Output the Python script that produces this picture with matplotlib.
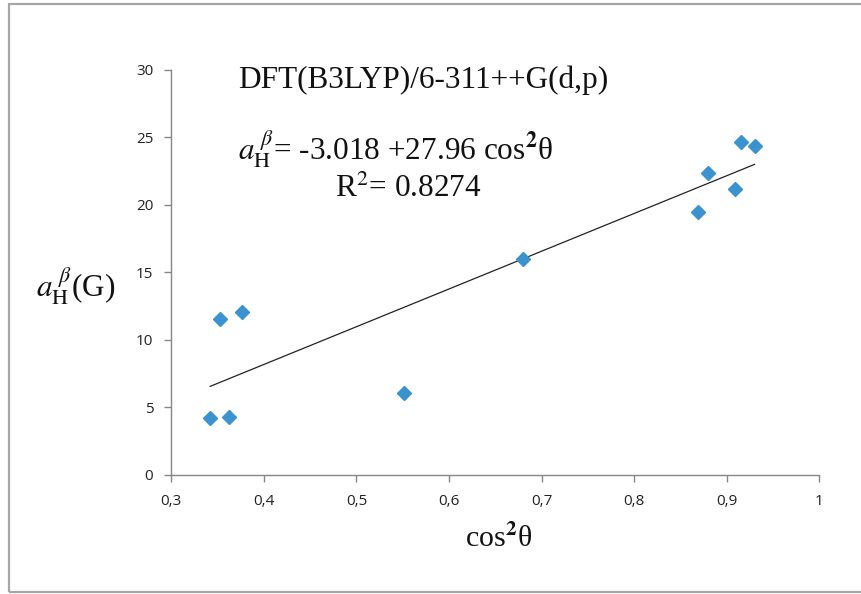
import numpy as np
import matplotlib.pyplot as plt
from matplotlib.patches import Rectangle

# cos^2(theta) values and beta-proton hyperfine couplings (G)
cos2_theta = [0.342, 0.362, 0.353, 0.376, 0.551, 0.680, 0.869, 0.880, 0.909, 0.915, 0.930]
a_h_beta = [4.20, 4.30, 11.55, 12.03, 6.03, 15.98, 19.48, 22.37, 21.16, 24.67, 24.35]

# linear fit given on the chart
intercept = -3.018
slope = 27.96

x_ticks = [0.3, 0.4, 0.5, 0.6, 0.7, 0.8, 0.9, 1.0]
x_tick_labels = ['0,3', '0,4', '0,5', '0,6', '0,7', '0,8', '0,9', '1']
y_ticks = [0, 5, 10, 15, 20, 25, 30]

plt.rcParams['mathtext.fontset'] = 'stix'

fig = plt.figure(figsize=(8.62, 5.94), dpi=100)
ax = fig.add_axes([0.1987, 0.2008, 0.7518, 0.6819])

# outer chart frame (right edge falls outside the picture)
fig.patches.append(Rectangle((9 / 862, 2 / 594), 1.5, (590 - 2) / 594,
                             transform=fig.transFigure, fill=False,
                             edgecolor='#a6a6a6', linewidth=1.6))

ax.plot(cos2_theta, a_h_beta, linestyle='none', marker='D', markersize=6.8,
        color='#3a93cf', markeredgecolor='#3a93cf', zorder=3)

xs = np.array([min(cos2_theta), max(cos2_theta)])
ax.plot(xs, intercept + slope * xs, color='#222222', linewidth=0.9, zorder=2)

ax.set_xlim(0.3, 1.0)
ax.set_ylim(0, 30)
ax.set_xticks(x_ticks)
ax.set_xticklabels(x_tick_labels)
ax.set_yticks(y_ticks)

for side in ['top', 'right']:
    ax.spines[side].set_visible(False)
for side in ['left', 'bottom']:
    ax.spines[side].set_color('#868686')
    ax.spines[side].set_linewidth(1.0)

ax.tick_params(direction='out', length=5, width=1.0, color='#868686',
               labelsize=11, labelcolor='#222222')
ax.tick_params(axis='y', pad=8)
ax.tick_params(axis='x', pad=9)
for lab in ax.get_xticklabels() + ax.get_yticklabels():
    lab.set_family('Open Sans')

serif = 'Liberation Serif'
fs = 22.5
fig.text(423 / 862, 1 - 88 / 594, 'DFT(B3LYP)/6-311++G(d,p)', family=serif,
         fontsize=fs, ha='center', va='baseline', color='#111111')
fig.text(238 / 862, 1 - 160 / 594,
         r'$a_{\mathrm{H}}^{\ \beta}$= -3.018 +27.96 cos$^{\mathbf{2}}$θ',
         family=serif, fontsize=fs, ha='left', va='baseline', color='#111111')
fig.text(335 / 862, 1 - 197 / 594, r'R$^{2}$= 0.8274', family=serif,
         fontsize=fs, ha='left', va='baseline', color='#111111')

fig.text(36 / 862, 1 - 297 / 594, r'$a_{\mathrm{H}}^{\ \beta}$(G)', family=serif,
         fontsize=fs, ha='left', va='baseline', color='#111111')
fig.text(465 / 862, 1 - 547 / 594, r'cos$^{\mathbf{2}}$θ', family=serif,
         fontsize=21.5, ha='left', va='baseline', color='#111111')

fig.savefig('out.png', dpi=100)
